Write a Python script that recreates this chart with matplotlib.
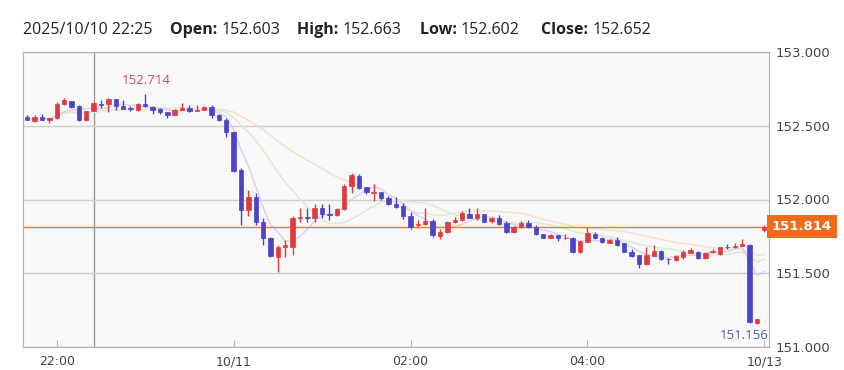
import matplotlib
matplotlib.use('Agg')
import matplotlib.pyplot as plt
import numpy as np
import pandas as pd

# 5分足 (2025/10/10 21:40 〜 10/13 最初の足)
opens = [152.557, 152.532, 152.560, 152.541, 152.551, 152.646, 152.668, 152.634, 152.537, 152.603,
         152.648, 152.645, 152.679, 152.634, 152.620, 152.607, 152.645, 152.629, 152.614, 152.591,
         152.573, 152.607, 152.620, 152.600, 152.607, 152.629, 152.573, 152.539, 152.456, 152.200,
         151.929, 152.019, 151.850, 151.737, 151.612, 151.680, 151.680, 151.873, 151.880, 151.873,
         151.940, 151.904, 151.895, 151.934, 152.094, 152.159, 152.083, 152.044, 152.049, 152.012,
         151.970, 151.956, 151.888, 151.825, 151.832, 151.854, 151.755, 151.778, 151.846, 151.861,
         151.902, 151.877, 151.900, 151.854, 151.873, 151.839, 151.778, 151.812, 151.839, 151.816,
         151.764, 151.741, 151.759, 151.737, 151.737, 151.642, 151.714, 151.764, 151.741, 151.707,
         151.725, 151.703, 151.646, 151.624, 151.561, 151.619, 151.651, 151.598, 151.590, 151.612,
         151.639, 151.646, 151.601, 151.641, 151.630, 151.680, 151.676, 151.685, 151.692, 151.161,
         151.794]
highs = [152.575, 152.575, 152.578, 152.551, 152.659, 152.686, 152.670, 152.644, 152.602, 152.663,
         152.677, 152.686, 152.683, 152.675, 152.636, 152.655, 152.714, 152.634, 152.620, 152.595,
         152.612, 152.652, 152.641, 152.643, 152.634, 152.643, 152.580, 152.553, 152.460, 152.213,
         152.064, 152.046, 151.873, 151.748, 151.690, 151.725, 151.887, 151.940, 151.940, 151.970,
         151.967, 151.967, 151.944, 152.105, 152.177, 152.173, 152.088, 152.103, 152.053, 152.026,
         152.019, 151.979, 151.917, 151.861, 151.940, 151.868, 151.800, 151.855, 151.880, 151.920,
         151.940, 151.940, 151.905, 151.880, 151.898, 151.855, 151.820, 151.855, 151.860, 151.826,
         151.768, 151.764, 151.762, 151.764, 151.746, 151.722, 151.816, 151.778, 151.746, 151.730,
         151.744, 151.706, 151.662, 151.626, 151.680, 151.690, 151.655, 151.605, 151.622, 151.660,
         151.670, 151.650, 151.642, 151.666, 151.680, 151.696, 151.702, 151.730, 151.698, 151.188,
         151.827]
lows = [152.537, 152.527, 152.537, 152.521, 152.548, 152.644, 152.622, 152.532, 152.535, 152.602,
        152.618, 152.591, 152.607, 152.612, 152.600, 152.600, 152.630, 152.578, 152.578, 152.550,
        152.570, 152.605, 152.596, 152.598, 152.605, 152.550, 152.535, 152.422, 152.189, 151.827,
        151.888, 151.827, 151.692, 151.612, 151.511, 151.612, 151.623, 151.850, 151.850, 151.850,
        151.873, 151.861, 151.890, 151.930, 152.042, 152.071, 152.035, 151.990, 152.000, 151.960,
        151.940, 151.871, 151.798, 151.805, 151.828, 151.745, 151.732, 151.775, 151.842, 151.855,
        151.873, 151.860, 151.845, 151.840, 151.828, 151.770, 151.770, 151.808, 151.808, 151.757,
        151.737, 151.737, 151.716, 151.735, 151.638, 151.640, 151.712, 151.734, 151.703, 151.703,
        151.686, 151.642, 151.612, 151.538, 151.558, 151.615, 151.590, 151.561, 151.582, 151.600,
        151.636, 151.598, 151.598, 151.638, 151.625, 151.662, 151.673, 151.683, 151.160, 151.156,
        151.783]
closes = [152.541, 152.561, 152.539, 152.551, 152.647, 152.673, 152.629, 152.539, 152.600, 152.652,
          152.638, 152.681, 152.636, 152.614, 152.614, 152.647, 152.632, 152.607, 152.595, 152.573,
          152.607, 152.622, 152.598, 152.607, 152.625, 152.571, 152.539, 152.456, 152.195, 151.929,
          152.019, 151.850, 151.737, 151.617, 151.680, 151.690, 151.873, 151.884, 151.874, 151.940,
          151.900, 151.895, 151.934, 152.094, 152.166, 152.080, 152.049, 152.049, 152.008, 151.967,
          151.951, 151.888, 151.814, 151.834, 151.854, 151.759, 151.782, 151.846, 151.861, 151.906,
          151.877, 151.900, 151.850, 151.877, 151.832, 151.778, 151.816, 151.839, 151.812, 151.764,
          151.741, 151.759, 151.737, 151.741, 151.642, 151.719, 151.771, 151.737, 151.710, 151.725,
          151.692, 151.646, 151.617, 151.561, 151.624, 151.651, 151.595, 151.594, 151.617, 151.646,
          151.658, 151.601, 151.639, 151.648, 151.676, 151.676, 151.685, 151.698, 151.172, 151.188,
          151.814]

tick_pos = [4, 28, 52, 76, 100]
tick_labels = ['22:00', '10/11', '02:00', '04:00', '10/13']
y_ticks = [151.0, 151.5, 152.0, 152.5, 153.0]
last_price = 151.814
max_idx, max_price = 16, 152.714
min_idx, min_price = 99, 151.156
cursor_idx = 9
header = [('2025/10/10 22:25', None), ('Open:', '152.603'), ('High:', '152.663'),
          ('Low:', '152.602'), ('Close:', '152.652')]

up_color = '#e03a40'
down_color = '#4b44c8'

df = pd.DataFrame({'open': opens, 'high': highs, 'low': lows, 'close': closes})
x = np.arange(len(df))

fig = plt.figure(figsize=(8.44, 3.70), dpi=100)
ax = fig.add_axes([23 / 844, 1 - 347 / 370, (769 - 23) / 844, (347 - 52) / 370])
ax.set_facecolor('#f8f8f8')

# 移動平均線 (薄く表示)
for n, c in [(25, '#f5e0cc'), (13, '#d8eed2'), (5, '#ddd0f4')]:
    ax.plot(x, df['close'].rolling(n, min_periods=1).mean(), color=c, lw=1.1, zorder=2)

# ローソク足
up = df['close'] >= df['open']
colors = np.where(up, up_color, down_color)
ax.vlines(x, df['low'], df['high'], colors=colors, lw=1, zorder=3)
body_lo = np.minimum(df['open'], df['close'])
body_h = np.maximum(np.abs(df['close'] - df['open']), 0.004)
ax.bar(x, body_h, bottom=body_lo, width=0.6, color=colors, edgecolor=colors, lw=0.5, zorder=4)

# 現在値ライン
ax.axhline(last_price, color='#f27a28', lw=1, zorder=3)
ax.text(1.004, last_price, f'{last_price:.3f}', transform=ax.get_yaxis_transform(),
        ha='left', va='center', color='white', fontsize=9.5, fontweight='bold',
        bbox=dict(boxstyle='square,pad=0.38', fc='#f26b1d', ec='none'), clip_on=False)

# カーソル
ax.axvline(cursor_idx, color='#999999', lw=1, zorder=1)

# 高値・安値
ax.text(max_idx + 0.2, max_price + 0.09, f'{max_price:.3f}', ha='center', va='center',
        color='#d2456e', fontsize=9.5, family='Open Sans')
ax.text(1.0, min_price - 0.075, f'{min_price:.3f}', transform=ax.get_yaxis_transform(),
        ha='right', va='center', color='#4f5d9c', fontsize=9.5, family='Open Sans')

ax.set_xlim(-0.58, 100.64)
ax.set_ylim(151.0, 153.0)
ax.set_yticks(y_ticks)
ax.set_yticklabels([f'{v:.3f}' for v in y_ticks])
ax.yaxis.tick_right()
ax.set_xticks(tick_pos)
ax.set_xticklabels(tick_labels)
ax.tick_params(axis='y', length=0, pad=5, labelsize=9.5, labelcolor='#444444')
ax.tick_params(axis='x', direction='in', length=5, color='#bbbbbb', pad=6,
               labelsize=9, labelcolor='#444444')
ax.grid(axis='y', color='#cfcfcf', lw=1)
ax.grid(axis='x', visible=False)
for s in ax.spines.values():
    s.set_color('#b0b0b0')

# ヘッダー
xs = [23, 170, 297, 420, 541]
for (label, val), px in zip(header, xs):
    if val is None:
        fig.text(px / 844, 1 - 30 / 370, label, ha='left', va='center', fontsize=11.5,
                 family='Open Sans', color='#222222')
    else:
        t = fig.text(px / 844, 1 - 30 / 370, label + ' ', ha='left', va='center', fontsize=11.5,
                     family='Open Sans', fontweight='bold', color='#222222')
        fig.canvas.draw()
        bb = t.get_window_extent()
        fig.text(bb.x1 / fig.bbox.width, 1 - 30 / 370, val, ha='left', va='center',
                 fontsize=11.5, family='Open Sans', color='#222222')

fig.savefig('out.png', dpi=100)
